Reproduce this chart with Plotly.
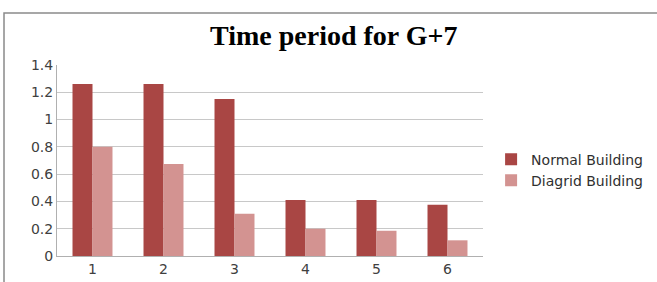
import plotly.graph_objects as go

categories = ["1", "2", "3", "4", "5", "6"]
normal_building = [1.26, 1.26, 1.15, 0.41, 0.41, 0.375]
diagrid_building = [0.80, 0.675, 0.31, 0.20, 0.185, 0.115]
y_ticks = [0, 0.2, 0.4, 0.6, 0.8, 1, 1.2, 1.4]

fig = go.Figure()
fig.add_trace(go.Bar(x=categories, y=normal_building, name="Normal Building",
                     marker=dict(color="#A94644", line=dict(width=0))))
fig.add_trace(go.Bar(x=categories, y=diagrid_building, name="Diagrid Building",
                     marker=dict(color="#D39391", line=dict(width=0))))

fig.update_layout(
    width=657, height=282,
    margin=dict(l=57, r=174, t=65, b=26, autoexpand=False),
    paper_bgcolor="white", plot_bgcolor="white",
    barmode="group", bargap=0.437, bargroupgap=0,
    title=dict(text="<b>Time period for G+7</b>", x=0.508, xanchor="center",
               y=0.875, yanchor="middle",
               font=dict(family="Liberation Serif", size=28, color="black")),
    font=dict(family="DejaVu Sans", size=13, color="#404040"),
    legend=dict(x=1.019, xanchor="left", y=0.45, yanchor="middle",
                font=dict(family="DejaVu Sans", size=14, color="#303030"),
                tracegroupgap=4, itemwidth=30),
    showlegend=True,
)
fig.update_xaxes(showline=True, linecolor="#b0b0b0", linewidth=1,
                 ticks="", tickfont=dict(size=14, color="#404040"),
                 showgrid=False, automargin=False)
fig.update_yaxes(range=[0, 1.4], tickvals=y_ticks, showgrid=True,
                 gridcolor="#c8c8c8", gridwidth=1, showline=True,
                 linecolor="#b0b0b0", linewidth=1, ticks="",
                 tickfont=dict(size=14, color="#404040"), zeroline=False,
                 automargin=False)

# outer chart frame
fig.add_shape(type="rect", xref="paper", yref="paper",
              x0=-0.1244, x1=1.5, y0=-0.3, y1=1.272,
              line=dict(color="#8a8a8a", width=1.5), layer="below")

fig.write_html("out.html", config={"displayModeBar": False},
               post_script="document.body.style.margin='0';document.body.style.padding='0';")
